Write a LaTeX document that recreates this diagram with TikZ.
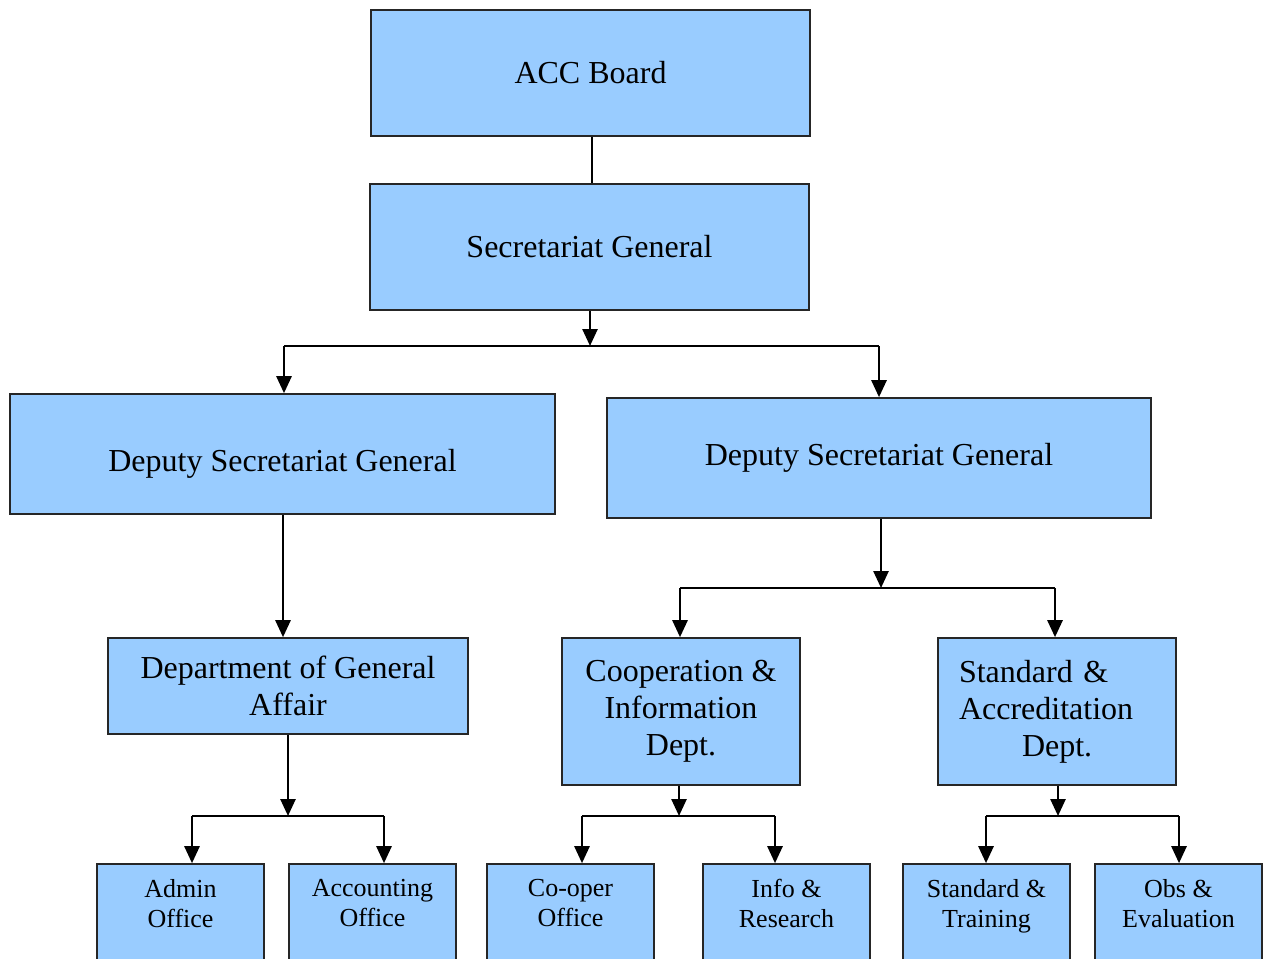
\documentclass[tikz,border=0pt]{standalone}
\usepackage{fontspec}
\setmainfont{Liberation Serif}
\usetikzlibrary{arrows.meta}
\definecolor{boxblue}{RGB}{153,204,255}
\begin{document}
\begin{tikzpicture}[x=0.5pt, y=-0.5pt, line join=miter,
	>={Triangle[length=8.5pt,width=7.5pt]},
	box/.style={draw=black!85, line width=0.8pt, fill=boxblue, inner sep=0pt, align=center,
		font=\fontsize{16}{18.5}\selectfont},
	low/.style={draw=black!85, line width=0.8pt, fill=boxblue, inner sep=0pt,
		minimum width=83.5pt, minimum height=68pt},
	lowlbl/.style={anchor=north, inner sep=0pt, yshift=-8pt, align=center,
		font=\fontsize{13}{15}\selectfont},
	link/.style={line width=1.3pt}]
			
			\useasboundingbox (0,0) rectangle (1267,958);
			\clip (0,0) rectangle (1267,958);
			
			\node[box, minimum width=219.5pt, minimum height=63pt] (acc) at (590.5,73) {ACC Board};
			\node[box, minimum width=219.5pt, minimum height=63pt] (sg) at (589.5,247) {Secretariat General};
			\node[box, minimum width=272.5pt, minimum height=60pt, text height=21pt] (dsgl) at (282.5,454) {Deputy Secretariat General};
			\node[box, minimum width=272pt, minimum height=60pt] (dsgr) at (879,458) {Deputy Secretariat General};
			\node[box, minimum width=180pt, minimum height=48pt] (dga) at (288,686) {Department of General\\Affair};
			\node[box, minimum width=119pt, minimum height=73.5pt] (coop) at (681,711.5) {Cooperation \&\\Information\\Dept.};
			\node[box, minimum width=119pt, minimum height=73.5pt, align=left, text width=98pt] (sad) at (1057,711.5)
			{Standard \&\\Accreditation\\\hspace*{31.5pt}Dept.};
			
			\node[low, label={[lowlbl]north:Admin\\Office}] (admin) at (180.5,932) {};
			\node[low, label={[lowlbl]north:Accounting\\Office}] (acct) at (372.5,932) {};
			\node[low, label={[lowlbl]north:Co-oper\\Office}] (cooff) at (570.5,932) {};
			\node[low, label={[lowlbl]north:Info \&\\Research}] (info) at (786.5,932) {};
			\node[low, label={[lowlbl]north:Standard \&\\Training}] (stt) at (986.5,932) {};
			\node[low, label={[lowlbl]north:Obs \&\\Evaluation}] (obs) at (1178.5,932) {};
			
			\coordinate (t0) at (590,346);
			\coordinate (tL) at (284,346);
			\coordinate (tR) at (879,346);
			\coordinate (d0) at (283,514);
			\coordinate (r0) at (881,588);
			\coordinate (rL) at (680,588);
			\coordinate (rR) at (1055,588);
			\coordinate (a0) at (288,816);
			\coordinate (aL) at (192,816);
			\coordinate (aR) at (384,816);
			\coordinate (c0) at (679,816);
			\coordinate (cL) at (582,816);
			\coordinate (cR) at (775,816);
			\coordinate (s0) at (1058,816);
			\coordinate (sL) at (986,816);
			\coordinate (sR) at (1179,816);
			
			\draw[line width=0.8pt] (acc.south -| 592,0) -- (sg.north -| 592,0);
			
			\draw[link, ->] (sg.south -| t0) -- (t0);
			\draw[link] (tL) -- (tR);
			\draw[link, ->] (tL) -- (tL |- dsgl.north);
			\draw[link, ->] (tR) -- (tR |- dsgr.north);
			
			\draw[link, ->] (dsgl.south -| d0) -- (d0 |- dga.north);
			
			\draw[link, ->] (dsgr.south -| r0) -- (r0);
			\draw[link] (rL) -- (rR);
			\draw[link, ->] (rL) -- (rL |- coop.north);
			\draw[link, ->] (rR) -- (rR |- sad.north);
			
			\draw[link, ->] (dga.south -| a0) -- (a0);
			\draw[link] (aL) -- (aR);
			\draw[link, ->] (aL) -- (aL |- admin.north);
			\draw[link, ->] (aR) -- (aR |- acct.north);
			
			\draw[link, ->] (coop.south -| c0) -- (c0);
			\draw[link] (cL) -- (cR);
			\draw[link, ->] (cL) -- (cL |- cooff.north);
			\draw[link, ->] (cR) -- (cR |- info.north);
			
			\draw[link, ->] (sad.south -| s0) -- (s0);
			\draw[link] (sL) -- (sR);
			\draw[link, ->] (sL) -- (sL |- stt.north);
			\draw[link, ->] (sR) -- (sR |- obs.north);
	\end{tikzpicture}
\end{document}
